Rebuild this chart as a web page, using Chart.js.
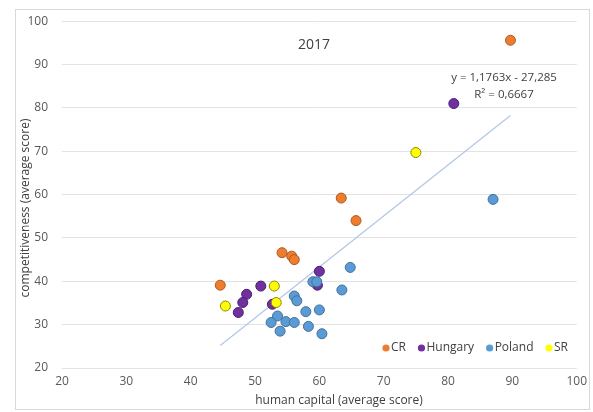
<!DOCTYPE html>
<html>
<head>
<meta charset="utf-8">
<script src="https://cdn.jsdelivr.net/npm/chart.js@4/dist/chart.umd.min.js"></script>
<style>
  html, body { margin: 0; padding: 0; background: #ffffff; }
  #wrap { width: 593px; height: 412px; }
</style>
</head>
<body>
<div id="wrap"><canvas id="c" width="593" height="412"></canvas></div>
<script>
// Year shown above the points
const chartTitle = '2017';

// Series names and colours
const seriesNames = ['CR', 'Hungary', 'Poland', 'SR'];
const seriesFill = ['#ED7D31', '#7030A0', '#5B9BD5', '#FFFF00'];
const seriesEdge = ['#B05A1E', '#4A1D6E', '#41719C', '#8C8A00'];

// Human capital (x) and competitiveness (y) average scores per region
const crX = [89.7, 63.4, 65.7, 54.2, 55.7, 56.1, 44.6];
const crY = [95.6, 59.2, 54.0, 46.6, 45.8, 45.0, 39.1];

const huX = [80.9, 60.0, 59.7, 50.9, 48.7, 48.1, 47.4, 52.7];
const huY = [81.0, 42.3, 39.1, 38.9, 37.0, 35.1, 32.8, 34.7];

const plX = [87.0, 64.8, 59.0, 59.6, 63.5, 56.1, 56.5, 57.9, 60.0, 53.5, 52.5, 54.8, 56.1, 58.3, 53.9, 60.4];
const plY = [58.9, 43.2, 39.9, 39.9, 38.0, 36.6, 35.5, 33.0, 33.4, 32.0, 30.5, 30.7, 30.5, 29.6, 28.5, 27.9];

const srX = [75.0, 53.0, 53.3, 45.4];
const srY = [69.7, 38.9, 35.1, 34.3];

// Linear trend stated on the chart
const trendSlope = 1.1763;
const trendIntercept = -27.285;
const trendLabel = 'y = 1,1763x - 27,285';
const r2Label = 'R\u00B2 = 0,6667';

// Axis ticks and titles
const axisMin = 20, axisMax = 100, axisStep = 10;
const xTitle = 'human capital (average score)';
const yTitle = 'competitiveness (average score)';

const FONT = '"Open Sans", "Liberation Sans", sans-serif';

function toPoints(xs, ys) {
  return xs.map((x, i) => ({ x: x, y: ys[i] }));
}

const allX = [].concat(crX, huX, plX, srX);
const tMin = Math.min.apply(null, allX);
const tMax = Math.max.apply(null, allX);

const seriesData = [
  toPoints(crX, crY),
  toPoints(huX, huY),
  toPoints(plX, plY),
  toPoints(srX, srY)
];

const datasets = seriesNames.map((name, i) => ({
  type: 'scatter',
  label: name,
  data: seriesData[i],
  backgroundColor: seriesFill[i],
  borderColor: seriesEdge[i],
  borderWidth: 1,
  pointRadius: 5,
  order: seriesNames.length - i
}));

datasets.push({
  type: 'line',
  label: 'trend',
  data: [
    { x: tMin, y: trendSlope * tMin + trendIntercept },
    { x: tMax, y: trendSlope * tMax + trendIntercept }
  ],
  borderColor: '#B4C7E7',
  borderWidth: 1.3,
  pointRadius: 0,
  fill: false,
  order: 10
});

// Frame, title, trend equation, axis titles and the in-plot legend
const decorations = {
  id: 'decorations',
  beforeDraw(chart) {
    const ctx = chart.ctx;
    ctx.save();
    ctx.fillStyle = '#ffffff';
    ctx.fillRect(0, 0, chart.width, chart.height);
    ctx.strokeStyle = '#d9d9d9';
    ctx.lineWidth = 1;
    ctx.strokeRect(15.5, 9.5, 574, 400);
    ctx.restore();
  },
  afterDatasetsDraw(chart) {
    const ctx = chart.ctx;
    const area = chart.chartArea;
    ctx.save();
    ctx.textBaseline = 'middle';

    // title
    ctx.fillStyle = '#404040';
    ctx.font = '14px ' + FONT;
    ctx.textAlign = 'center';
    ctx.fillText(chartTitle, 314, 45);

    // trend equation
    ctx.font = '11.5px ' + FONT;
    ctx.fillText(trendLabel, 504, 78);
    ctx.fillText(r2Label, 504, 95);

    // axis titles
    ctx.font = '12px ' + FONT;
    ctx.fillText(xTitle, 339, 401);
    ctx.save();
    ctx.translate(26, 208);
    ctx.rotate(-Math.PI / 2);
    ctx.fillText(yTitle, 0, 0);
    ctx.restore();

    // legend
    ctx.font = '12px ' + FONT;
    ctx.textAlign = 'left';
    let x = 386;
    const y = 348;
    seriesNames.forEach((name, i) => {
      ctx.beginPath();
      ctx.arc(x, y, 3.6, 0, Math.PI * 2);
      ctx.fillStyle = seriesFill[i];
      ctx.fill();
      ctx.fillStyle = '#404040';
      ctx.fillText(name, x + 5, y);
      x += 5 + ctx.measureText(name).width + 15.5;
    });
    ctx.restore();
  }
};

new Chart(document.getElementById('c'), {
  type: 'scatter',
  data: { datasets: datasets },
  options: {
    responsive: false,
    devicePixelRatio: 1,
    animation: false,
    layout: { padding: { top: 17, right: 15, left: 0, bottom: 0 } },
    plugins: {
      legend: { display: false },
      tooltip: { enabled: false },
      title: { display: false }
    },
    scales: {
      x: {
        type: 'linear',
        min: axisMin,
        max: axisMax,
        afterFit(scale) { scale.height = 44; },
        ticks: { stepSize: axisStep, color: '#595959', font: { size: 12, family: FONT }, padding: 6, maxRotation: 0 },
        grid: { display: false, drawTicks: false },
        border: { display: false }
      },
      y: {
        type: 'linear',
        min: axisMin,
        max: axisMax,
        afterFit(scale) { scale.width = 62; },
        ticks: { stepSize: axisStep, color: '#595959', font: { size: 12, family: FONT }, padding: 14 },
        grid: { color: '#e3e3e3', lineWidth: 1, drawTicks: false },
        border: { display: false }
      }
    }
  },
  plugins: [decorations]
});
</script>
</body>
</html>
